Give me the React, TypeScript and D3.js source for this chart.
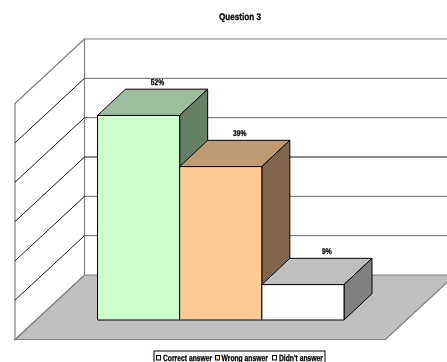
import React from "react";
import * as d3 from "d3";

const categories = ["Correct answer", "Wrong answer", "Didn't answer"];
const shares = [52, 39, 9];
const gridTicks = [0, 10, 20, 30, 40, 50, 60];
const frontColors = ["#CCFFCC", "#FFCC99", "#FFFFFF"];
const topColors = ["#9CBE9C", "#BF9A72", "#BFBFBF"];
const sideColors = ["#668066", "#806650", "#808080"];

const W = 447;
const H = 362;
const FONT = "'Liberation Sans', Arial, sans-serif";

// Oblique projection: the depth vector runs from the chart's back plane to its front plane.
const backY = d3.scaleLinear().domain([0, 60]).range([275, 39]);
const wallX = 84.5;
const depth: [number, number] = [-69.5, 64.5];
const barDepth: [number, number] = [28, -26.3];
const barBaseY = 320;
const barHeight = d3.scaleLinear().domain([0, 60]).range([0, 236]);
const barX = d3.scaleBand<string>().domain(categories).range([97.5, 344]).padding(0);

const labelNudge = [5, 5, 10];
const legendSwatchX = [156.5, 215.5, 272.5];
const legendTextX = [163, 221.5, 279];

// Horizontal squeeze that gives the bold face its condensed look.
const TITLE_SQUEEZE = 0.83;
const LABEL_SQUEEZE = 0.8;
const LEGEND_SQUEEZE = 0.75;

const pts = (p: [number, number][]) => p.map((q) => q.join(",")).join(" ");

export default function App() {
  const floor: [number, number][] = [
    [wallX, backY(0)],
    [wallX + 370.5, backY(0)],
    [wallX + 370.5 + depth[0], backY(0) + depth[1]],
    [wallX + depth[0], backY(0) + depth[1]],
  ];
  const sideWall: [number, number][] = [
    [wallX, backY(60)],
    [wallX, backY(0)],
    [wallX + depth[0], backY(0) + depth[1]],
    [wallX + depth[0], backY(60) + depth[1]],
  ];

  return (
    <svg
      width={W}
      height={H}
      viewBox={`0 0 ${W} ${H}`}
      style={{ position: "absolute", left: 0, top: 0, background: "#fff" }}
      fontFamily={FONT}
    >
      {/* walls and gridlines */}
      <polygon points={pts(floor)} fill="#C0C0C0" stroke="#808080" strokeWidth={1.2} />
      <polygon points={pts(sideWall)} fill="#fff" stroke="#808080" strokeWidth={1.2} />
      <line x1={wallX} x2={W} y1={backY(60)} y2={backY(60)} stroke="#808080" strokeWidth={1.2} />
      {gridTicks.slice(1, -1).map((t) => (
        <g key={t} stroke="#000" strokeWidth={0.9}>
          <line x1={wallX} x2={W} y1={backY(t)} y2={backY(t)} stroke={t === 30 ? "#000" : "#555"} />
          <line
            x1={wallX}
            y1={backY(t)}
            x2={wallX + depth[0]}
            y2={backY(t) + depth[1]}
          />
        </g>
      ))}

      {/* bars */}
      {categories.map((c, i) => {
        const x0 = barX(c)!;
        const x1 = x0 + barX.bandwidth();
        const top = barBaseY - barHeight(shares[i]);
        const [dx, dy] = barDepth;
        return (
          <g key={c} stroke="#000" strokeWidth={1} strokeLinejoin="round">
            <polygon
              points={pts([[x0, top], [x1, top], [x1 + dx, top + dy], [x0 + dx, top + dy]])}
              fill={topColors[i]}
            />
            <polygon
              points={pts([[x1, top], [x1 + dx, top + dy], [x1 + dx, barBaseY + dy], [x1, barBaseY]])}
              fill={sideColors[i]}
            />
            <rect x={x0} y={top} width={x1 - x0} height={barBaseY - top} fill={frontColors[i]} />
          </g>
        );
      })}

      {/* legend frame, running off the bottom edge */}
      <rect x={154} y={351} width={171} height={16} fill="#fff" stroke="#000" strokeWidth={1} />
      {categories.map((c, i) => (
        <rect
          key={c}
          x={legendSwatchX[i]}
          y={355.5}
          width={4}
          height={4.5}
          fill={frontColors[i]}
          stroke="#000"
          strokeWidth={1}
        />
      ))}

      {/* all text sits in one layer so it is smoothed in grey; the thin outline thickens the strokes */}
      <g
        opacity={0.99}
        fontWeight="bold"
        fill="#000"
        stroke="#000"
        strokeWidth={0.3}
        style={{ textRendering: "geometricPrecision" }}
      >
        <text transform={`translate(219,19.5) scale(${TITLE_SQUEEZE},1)`} fontSize={9.8}>
          Question 3
        </text>
        {categories.map((c, i) => {
          const x = barX(c)! + barX.bandwidth() / 2 + barDepth[0] / 2 + labelNudge[i];
          const y = barBaseY - barHeight(shares[i]) + barDepth[1] - 4;
          return (
            <text
              key={c}
              transform={`translate(${x},${y}) scale(${LABEL_SQUEEZE},1)`}
              textAnchor="middle"
              fontSize={8.4}
            >
              {shares[i]}%
            </text>
          );
        })}
        {categories.map((c, i) => (
          <text
            key={c}
            transform={`translate(${legendTextX[i]},361) scale(${LEGEND_SQUEEZE},1)`}
            fontSize={9}
          >
            {c}
          </text>
        ))}
      </g>
    </svg>
  );
}
